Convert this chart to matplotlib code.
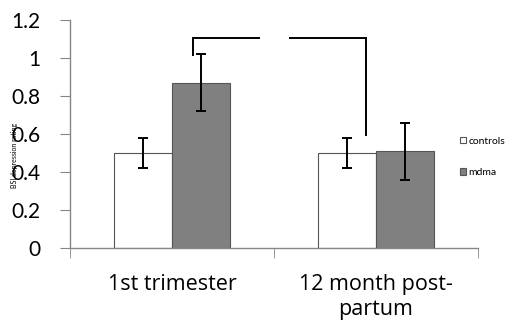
import matplotlib
matplotlib.use("Agg")
import matplotlib.pyplot as plt
import numpy as np

plt.rcParams['font.family'] = ['Lato', 'DejaVu Sans']

categories = ["1st trimester", "12 month post-\npartum"]
series_names = ["controls", "mdma"]
controls = [0.50, 0.50]
mdma = [0.87, 0.51]
controls_err = [0.08, 0.08]
mdma_err = [0.15, 0.15]
yticks = [0, 0.2, 0.4, 0.6, 0.8, 1.0, 1.2]
ytick_labels = ["0", "0.2", "0.4", "0.6", "0.8", "1", "1.2"]

fig = plt.figure(figsize=(5.13, 3.29), dpi=100)
ax = fig.add_axes([70/513, 1-248/329, 408/513, 228/329])

x = np.arange(len(categories))
w = 0.285
edge = '#555555'
ax.bar(x - w/2, controls, w, color='white', edgecolor=edge, linewidth=0.8,
       label=series_names[0], zorder=2)
ax.bar(x + w/2, mdma, w, color='#808080', edgecolor=edge, linewidth=0.8,
       label=series_names[1], zorder=2)
ax.errorbar(x - w/2, controls, yerr=controls_err, fmt='none', ecolor='black',
            elinewidth=1.4, capsize=3.6, capthick=1.4, zorder=3)
ax.errorbar(x + w/2, mdma, yerr=mdma_err, fmt='none', ecolor='black',
            elinewidth=1.4, capsize=3.6, capthick=1.4, zorder=3)

# significance bracket (with a gap in the middle)
ax.plot([0.103, 0.103, 0.431], [1.01, 1.105, 1.105], color='black', lw=1.4,
        clip_on=False, solid_capstyle='butt', solid_joinstyle='miter')
ax.plot([0.574, 0.951, 0.951], [1.105, 1.105, 0.59], color='black', lw=1.4,
        clip_on=False, solid_capstyle='butt', solid_joinstyle='miter')

ax.set_xlim(-0.5, 1.5)
ax.set_ylim(0, 1.2)
ax.set_yticks(yticks)
ax.set_yticklabels(ytick_labels, fontsize=15)
ax.set_xticks(x)
ax.set_xticklabels(categories, fontsize=15.5, linespacing=1.2,
                   family=['Open Sans', 'DejaVu Sans'])
ax.set_xticks([-0.5, 0.5, 1.5], minor=True)
ax.tick_params(axis='x', which='major', length=0, pad=19)
ax.tick_params(axis='x', which='minor', length=7, color='#868686', direction='out')
ax.tick_params(axis='y', length=7, color='#868686', direction='out', pad=14)

for s in ['top', 'right']:
    ax.spines[s].set_visible(False)
for s in ['left', 'bottom']:
    ax.spines[s].set_color('#868686')
    ax.spines[s].set_linewidth(1.0)

fig.text(15/513, 1-155/329, "BSI depression rating", rotation=90, fontsize=5,
         ha='center', va='center')

leg = ax.legend(loc='center left', bbox_to_anchor=(460/513, 1-157/329),
                bbox_transform=fig.transFigure,
                frameon=False, fontsize=7.5, handlelength=0.6, handleheight=0.6,
                handletextpad=0.2, labelspacing=2.2, borderaxespad=0, borderpad=0)

fig.savefig("out.png", dpi=100)
